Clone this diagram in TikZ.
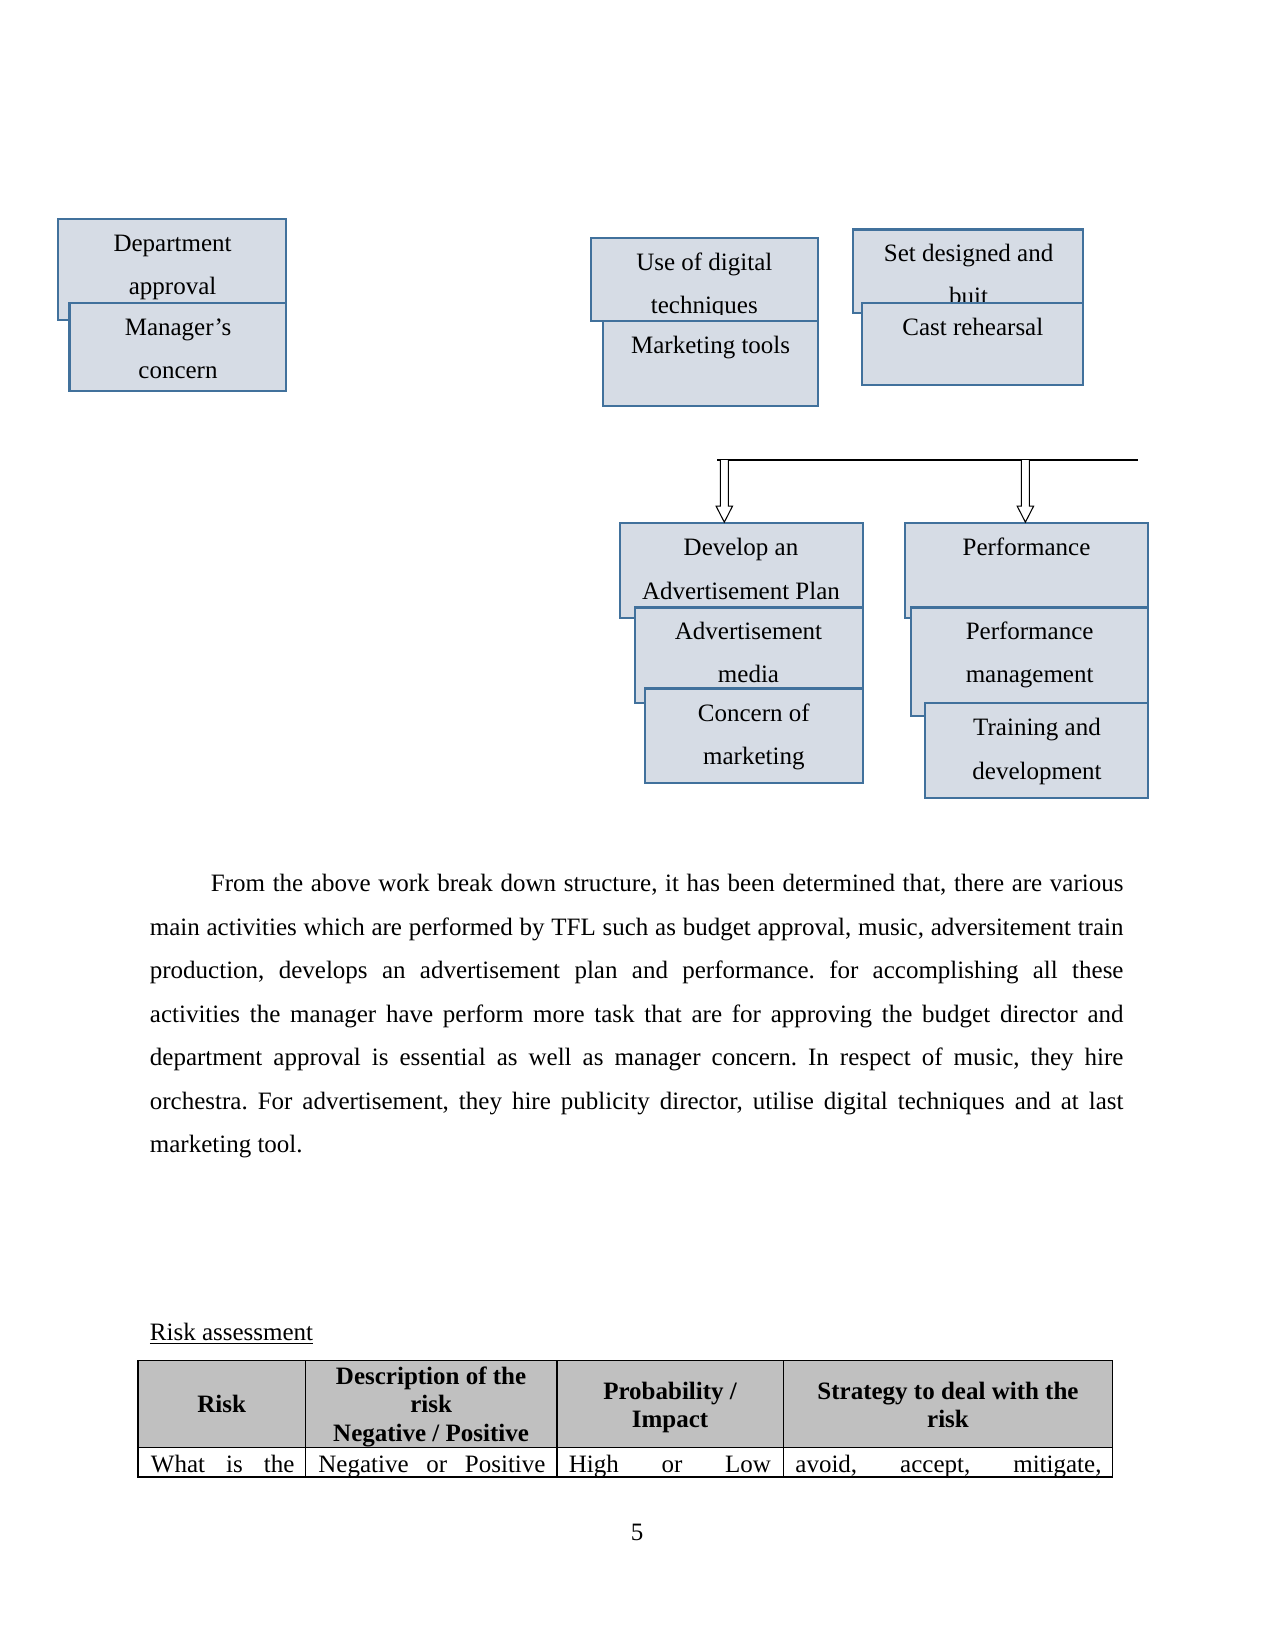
\documentclass[tikz,border=0pt]{standalone}
\usepackage{fontspec}
\setmainfont{Liberation Serif}
\usetikzlibrary{calc,fit}
\definecolor{boxfill}{HTML}{D6DCE5}
\definecolor{boxline}{HTML}{41719C}
\definecolor{headgray}{HTML}{C0C0C0}
\frenchspacing
\tikzset{
  wbox/.style={draw=boxline, fill=boxfill, line width=1pt, inner sep=0pt},
  btext/.style={anchor=north, align=center, inner sep=0pt, font=\fontsize{12}{20.7}\selectfont},
  arrowline/.style={draw=black, fill=white, line width=0.5pt, line join=miter},
  hcell/.style={draw=black, fill=headgray, line width=0.6pt, inner sep=0pt},
  rcell/.style={draw=black, line width=0.6pt, inner sep=0pt},
  htext/.style={anchor=north, align=center, inner sep=0pt, font=\bfseries\fontsize{12}{13.65}\selectfont},
  rtext/.style={anchor=base west, inner sep=0pt, font=\fontsize{12}{14}\selectfont},
}
\newcommand\wbsbox[5]{\node[wbox, fit={(#2,#3) (#4,#5)}] (#1) {};}
% text clipped at the box's inner bottom margin, as a text box does
\newcommand\wbstext[4]{\begin{scope}
  \clip ($(#1.north west)+(0,-40)$) rectangle ($(#1.south east)+(0,-7.5)$);
  \node[btext] (#1-t) at (#2,#3) {\strut #4};
  \end{scope}}
\newcommand\openarrow[2]{%
  \draw[arrowline] ($(#1)+(-4,0)$) -- ($(#2)+(-4,-16)$) -- ($(#2)+(-8.2,-16)$) -- (#2)
    -- ($(#2)+(8.2,-16)$) -- ($(#2)+(4,-16)$) -- ($(#1)+(4,0)$);}
\begin{document}
\begin{tikzpicture}[x=0.48pt, y=-0.48pt]
\useasboundingbox (0,0) rectangle (1275,1651);

% left group
\wbsbox{dept}{58}{219}{286.4}{320}
\wbstext{dept}{172.6}{221}{Department\\approval}
\wbsbox{mgr}{69.5}{303.2}{286.4}{390.6}
\wbstext{mgr}{178}{305.2}{Manager’s\\concern}

% digital / marketing
\wbsbox{dig}{590.6}{237.9}{818}{321.1}
\wbstext{dig}{704.3}{239.9}{Use of digital\\techniques}
\wbsbox{mtl}{603.3}{321.1}{818}{406.4}
\wbstext{mtl}{710.6}{323.1}{Marketing tools}

% set / cast
\wbsbox{set}{852.8}{229.5}{1083.3}{312.7}
\wbstext{set}{968.6}{230.5}{Set designed and\\buit}
\wbsbox{cast}{862.2}{303.2}{1083.3}{385.3}
\wbstext{cast}{972.8}{305.2}{Cast rehearsal}

% advertisement plan
\wbsbox{dev}{620.1}{523.2}{863.3}{618}
\wbstext{dev}{741}{525.3}{Develop an\\Advertisement Plan}
\wbsbox{media}{634.8}{607.5}{863.3}{703.3}
\wbstext{media}{748.5}{608.4}{Advertisement\\media}
\wbsbox{conc}{645.4}{688.5}{863.3}{783.3}
\wbstext{conc}{753.8}{690.5}{Concern of\\marketing}

% performance
\wbsbox{perf}{905.4}{523.2}{1147.6}{618}
\wbstext{perf}{1026.5}{525.3}{Performance}
\wbsbox{perfm}{910.7}{607.5}{1147.6}{716}
\wbstext{perfm}{1029.6}{608.4}{Performance\\management}
\wbsbox{train}{925.4}{703.3}{1147.6}{798}
\wbstext{train}{1037}{705.3}{Training and\\development}

% connectors
\coordinate (hl) at (717,460);
\coordinate (hm) at (864,460);
\coordinate (hr) at (1138.1,460);
\draw[line width=0.6pt] (hl) -- (hr);
\draw[line width=0.9pt] (hl) -- (hm);
\coordinate (a1) at (724.3,460);
\coordinate (a2) at (1025.4,460);
\coordinate (t1) at (a1 |- dev.north);
\coordinate (t2) at (a2 |- perf.north);
\openarrow{a1}{t1}
\openarrow{a2}{t2}

% paragraph
\node[anchor=north west, align=left, inner sep=0pt, font=\fontsize{12}{20.85}\selectfont\frenchspacing] (para) at (149.5,861) {%
\strut\hspace*{29.3pt}\makebox[438pt][s]{From the above work break down structure, it has been determined that, there are various}\\
\makebox[467.3pt][s]{main activities which are performed by TFL such as budget approval, music, adversitement train}\\
\makebox[467.3pt][s]{production, develops an advertisement plan and performance. for accomplishing all these}\\
\makebox[467.3pt][s]{activities the manager have perform more task that are for approving the budget director and}\\
\makebox[467.3pt][s]{department approval is essential as well as manager concern. In respect of music, they hire}\\
\makebox[467.3pt][s]{orchestra. For advertisement, they hire publicity director, utilise digital techniques and at last}\\
marketing tool.};

% risk assessment
\node[anchor=base west, inner sep=0pt, font=\fontsize{12}{14}\selectfont] (ra) at (149.5,1340) {\underline{Risk assessment}};

% table
\node[hcell, fit={(137.9,1360.2) (305.3,1447.6)}] (h1) {};
\node[hcell, fit={(305.3,1360.2) (556.9,1447.6)}] (h2) {};
\node[hcell, fit={(556.9,1360.2) (783.3,1447.6)}] (h3) {};
\node[hcell, fit={(783.3,1360.2) (1112.8,1447.6)}] (h4) {};
\node[rcell, fit={(137.9,1447.6) (305.3,1477)}] (r1) {};
\node[rcell, fit={(305.3,1447.6) (556.9,1477)}] (r2) {};
\node[rcell, fit={(556.9,1447.6) (783.3,1477)}] (r3) {};
\node[rcell, fit={(783.3,1447.6) (1112.8,1477)}] (r4) {};
\node[htext] (h1-t) at (221.6,1392.6) {\strut Risk};
\node[htext] (h2-t) at (431.1,1364.1) {\strut Description of the\\risk\\Negative / Positive};
\node[htext] (h3-t) at (670.1,1378.8) {\strut Probability /\\Impact};
\node[htext] (h4-t) at (948,1378.8) {\strut Strategy to deal with the\\risk};
\node[rtext] (r1-t) at (150.5,1472.4) {\makebox[68.9pt][s]{What is the}};
\node[rtext] (r2-t) at (318,1472.4) {\makebox[109pt][s]{Negative or Positive}};
\node[rtext] (r3-t) at (568.5,1472.4) {\makebox[97pt][s]{High or Low}};
\node[rtext] (r4-t) at (795,1472.4) {\makebox[146.9pt][s]{avoid, accept, mitigate,}};

% page number
\node[anchor=base, inner sep=0pt, font=\fontsize{12}{14}\selectfont] (pg) at (637,1540) {5};
\end{tikzpicture}
\end{document}
